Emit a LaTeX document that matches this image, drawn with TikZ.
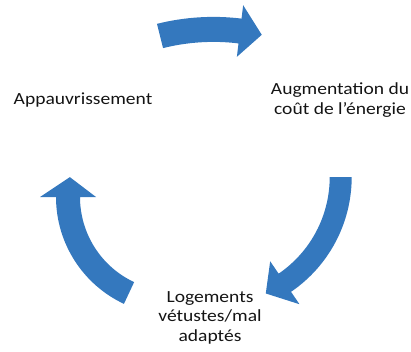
\documentclass[tikz,border=0pt]{standalone}
\usepackage{fontspec}
\setmainfont[FakeStretch=1.15]{Carlito}
\definecolor{arrowblue}{RGB}{52,120,190}
\definecolor{txt}{RGB}{20,20,20}
\newcommand{\cyclearrow}[8]{% center, R, w, h, a0, a1, a2
  \fill[arrowblue, shift={(#1)}] (#5:#2+#3) arc[start angle=#5, end angle=#6, radius=#2+#3]
    -- (#6:#2+#4) -- (#7:#2) -- (#6:#2-#4) -- (#6:#2-#3)
    arc[start angle=#6, end angle=#5, radius=#2-#3] -- cycle;}
\begin{document}
\begin{tikzpicture}[x=1pt,y=1pt,
  lbl/.style={text=txt, align=center, font=\fontsize{17}{19.5}\selectfont, inner sep=0pt}]
\useasboundingbox (0,0) rectangle (411,351);
% arrows
\cyclearrow{213.4,101.6}{220}{12.5}{26}{104.05}{83.05}{77.3}{}
\cyclearrow{212.7,174}{128}{11}{26}{0}{-55.7}{-65.5}{}
\cyclearrow{174,154}{106}{12}{28}{244.9}{180}{169.2}{}
% labels
\node[lbl] (pov) at (83,251) {Appauvrissement};
\node[lbl] (cost) at (340,251) {Augmentation du\\coût de l'énergie};
\node[lbl] (hous) at (210,33.5) {Logements\\vétustes/mal\\adaptés};
\end{tikzpicture}
\end{document}
